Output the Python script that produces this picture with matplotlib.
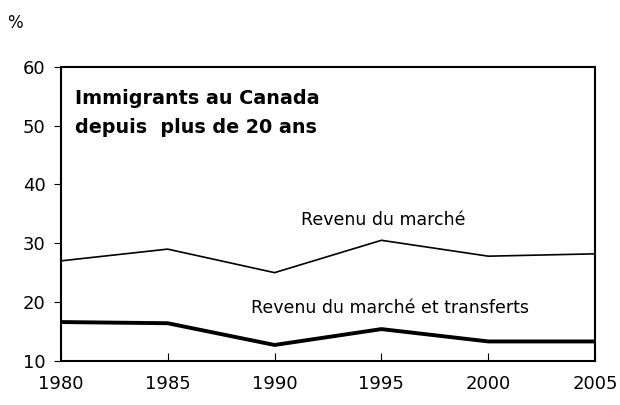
import matplotlib.pyplot as plt

years = [1980, 1985, 1990, 1995, 2000, 2005]
market = [27.0, 29.0, 25.0, 30.5, 27.8, 28.2]
market_transfers = [16.6, 16.4, 12.7, 15.4, 13.3, 13.3]

plt.rcParams['font.family'] = ['DejaVu Sans']

fig = plt.figure(figsize=(6.2, 4.05), dpi=100)
ax = fig.add_axes([0.098, 0.109, 0.862, 0.726])

ax.plot(years, market, color='black', lw=1.2)
ax.plot(years, market_transfers, color='black', lw=2.8)

ax.set_xlim(1980, 2005)
ax.set_ylim(10, 60)
ax.set_xticks(years)
ax.set_yticks(range(10, 61, 10))
ax.tick_params(axis='x', direction='in', length=6, labelsize=13, pad=10)
ax.tick_params(axis='y', direction='out', length=5, labelsize=13, pad=6)
for s in ax.spines.values():
    s.set_linewidth(1.5)

ax.text(1980.66, 54.6, "Immigrants au Canada", fontsize=13.8,
        fontweight='bold', va='center')
ax.text(1980.66, 49.6, "depuis  plus de 20 ans", fontsize=13.8,
        fontweight='bold', va='center')
ax.text(1995.1, 34.0, "Revenu du marché", fontsize=12.5, ha='center', va='center')
ax.text(1995.4, 19.0, "Revenu du marché et transferts", fontsize=12.5,
        ha='center', va='center')
fig.text(0.024, 0.943, "%", fontsize=12, ha='center', va='center')

fig.savefig("out.png", dpi=100)
